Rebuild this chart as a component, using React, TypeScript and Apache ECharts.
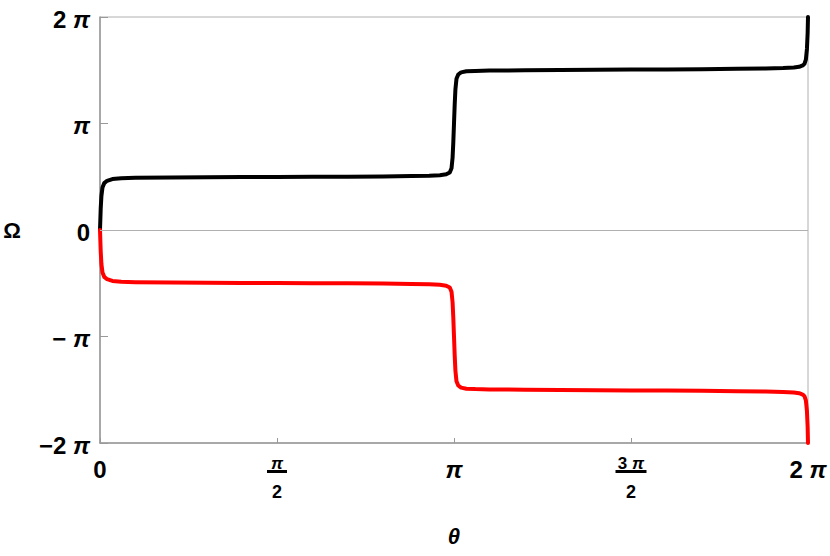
import React, { useEffect, useRef } from "react";
import * as echarts from "echarts";

// θ and Ω values in units of π
const thetaUpper = [
  0, 0.002, 0.004, 0.007, 0.012, 0.02, 0.035, 0.06, 0.1, 0.2, 0.3, 0.4, 0.5, 0.6, 0.7, 0.8, 0.88, 0.93, 0.96,
  0.978, 0.988, 0.993, 0.996, 0.998, 1.0, 1.002, 1.004, 1.007, 1.012, 1.02, 1.035, 1.06, 1.1, 1.2, 1.3, 1.4, 1.5,
  1.6, 1.7, 1.8, 1.88, 1.93, 1.96, 1.975, 1.985, 1.99, 1.994, 1.997, 1.999, 2.0,
];
const omegaUpper = [
  0, 0.2, 0.32, 0.4, 0.44, 0.462, 0.478, 0.486, 0.49, 0.493, 0.495, 0.497, 0.498, 0.5, 0.501, 0.503, 0.506, 0.51,
  0.515, 0.523, 0.54, 0.58, 0.68, 0.82, 1.0, 1.18, 1.32, 1.42, 1.46, 1.48, 1.49, 1.494, 1.497, 1.5, 1.502,
  1.504, 1.506, 1.508, 1.51, 1.513, 1.516, 1.52, 1.525, 1.532, 1.545, 1.56, 1.6, 1.7, 1.85, 2.0,
];
const thetaLower = [
  0, 0.002, 0.004, 0.007, 0.012, 0.02, 0.035, 0.06, 0.1, 0.2, 0.3, 0.4, 0.5, 0.6, 0.7, 0.8, 0.88, 0.93, 0.96,
  0.978, 0.988, 0.993, 0.996, 0.998, 1.0, 1.002, 1.004, 1.007, 1.012, 1.02, 1.035, 1.06, 1.1, 1.2, 1.3, 1.4, 1.5,
  1.6, 1.7, 1.8, 1.88, 1.93, 1.96, 1.975, 1.985, 1.99, 1.994, 1.997, 1.999, 2.0,
];
const omegaLower = [
  0, -0.2, -0.32, -0.4, -0.44, -0.462, -0.478, -0.486, -0.49, -0.493, -0.495, -0.497, -0.498, -0.5, -0.501,
  -0.503, -0.506, -0.51, -0.515, -0.523, -0.54, -0.58, -0.68, -0.82, -1.0, -1.18, -1.32, -1.42, -1.46, -1.48,
  -1.49, -1.494, -1.497, -1.5, -1.502, -1.504, -1.506, -1.508, -1.51, -1.513, -1.516, -1.52, -1.525,
  -1.532, -1.545, -1.56, -1.6, -1.7, -1.85, -2.0,
];

const xTickLabels: Record<string, string> = {
  "0": "{big|0}",
  "0.5": "{nump|π}\n{bar1| }\n{den|2}",
  "1": "{bigp|π}",
  "1.5": "{num|3 }{nump|π}\n{bar3| }\n{den|2}",
  "2": "{big|2 }{bigp|π}",
};
const yTickLabels: Record<string, string> = {
  "-2": "{t|−2 }{p|π}",
  "-1": "{t|− }{p|π}",
  "0": "{t|0}",
  "1": "{p|π}",
  "2": "{t|2 }{p|π}",
};

const FONT = "'Liberation Sans', Arial, Helvetica, sans-serif";
const big = { fontFamily: FONT, fontSize: 24, fontWeight: "bold", color: "#000", lineHeight: 24 };
const num = { fontFamily: FONT, fontSize: 17, fontWeight: "bold", color: "#000", lineHeight: 12 };

export default function App() {
  const ref = useRef<HTMLDivElement>(null);
  useEffect(() => {
    if (!ref.current) return;
    const chart = echarts.init(ref.current, undefined, { renderer: "svg" });
    const upper = thetaUpper.map((t, i) => [t, omegaUpper[i]]);
    const lower = thetaLower.map((t, i) => [t, omegaLower[i]]);
    chart.setOption({
      animation: false,
      backgroundColor: "#fff",
      grid: {
        left: 100,
        right: 22,
        top: 17,
        bottom: 113,
        show: true,
        borderColor: "#b0b0b0",
        borderWidth: 1,
        backgroundColor: "transparent",
      },
      xAxis: {
        type: "value",
        min: 0,
        max: 2,
        interval: 0.5,
        name: "θ",
        nameLocation: "middle",
        nameGap: 82,
        nameTextStyle: { fontFamily: FONT, fontSize: 22, fontWeight: "bold", fontStyle: "italic", color: "#000" },
        axisLine: { onZero: false, lineStyle: { color: "#999", width: 1.5 } },
        axisTick: { show: true, inside: true, length: 5, lineStyle: { color: "#999", width: 1 } },
        splitLine: { show: false },
        axisLabel: {
          margin: 14,
          showMinLabel: true,
          showMaxLabel: true,
          formatter: (v: number) => xTickLabels[String(v)] ?? "",
          rich: {
            big,
            bigp: { ...big, fontStyle: "italic" },
            num,
            nump: { ...num, fontStyle: "italic" },
            den: { fontFamily: FONT, fontSize: 18, fontWeight: "bold", color: "#000", lineHeight: 36 },
            bar1: { width: 20, height: 3, lineHeight: 5, fontSize: 2, backgroundColor: "#000" },
            bar3: { width: 31, height: 3, lineHeight: 5, fontSize: 2, backgroundColor: "#000" },
          },
        },
      },
      yAxis: {
        type: "value",
        min: -2,
        max: 2,
        interval: 1,
        name: "Ω",
        nameLocation: "middle",
        nameRotate: 0,
        nameGap: 79,
        nameTextStyle: { fontFamily: FONT, fontSize: 22, fontWeight: "bold", color: "#000" },
        axisLine: { show: true, lineStyle: { color: "#999", width: 1.5 } },
        axisTick: { show: true, inside: true, length: 8, lineStyle: { color: "#999", width: 1 } },
        splitLine: { show: false },
        axisLabel: {
          margin: 10,
          formatter: (v: number) => yTickLabels[String(v)] ?? "",
          rich: {
            t: { ...big, padding: [4, 0, 0, 0] },
            p: { ...big, fontStyle: "italic", padding: [4, 0, 0, 0] },
          },
        },
      },
      series: [
        {
          type: "line",
          data: [],
          silent: true,
          z: 1,
          markLine: {
            silent: true,
            symbol: ["none", "none"],
            label: { show: false },
            lineStyle: { color: "#b0b0b0", width: 1, type: "solid" },
            data: [{ yAxis: 0 }],
          },
        },
        {
          type: "line",
          data: upper,
          showSymbol: false,
          symbol: "none",
          z: 3,
          lineStyle: { color: "#000", width: 4, join: "round", cap: "round" },
        },
        {
          type: "line",
          data: lower,
          showSymbol: false,
          symbol: "none",
          z: 4,
          lineStyle: { color: "#ff0000", width: 4, join: "round", cap: "round" },
        },
      ],
    });
    return () => chart.dispose();
  }, []);
  return <div ref={ref} style={{ width: 830, height: 556, position: "absolute", left: 0, top: 0 }} />;
}
